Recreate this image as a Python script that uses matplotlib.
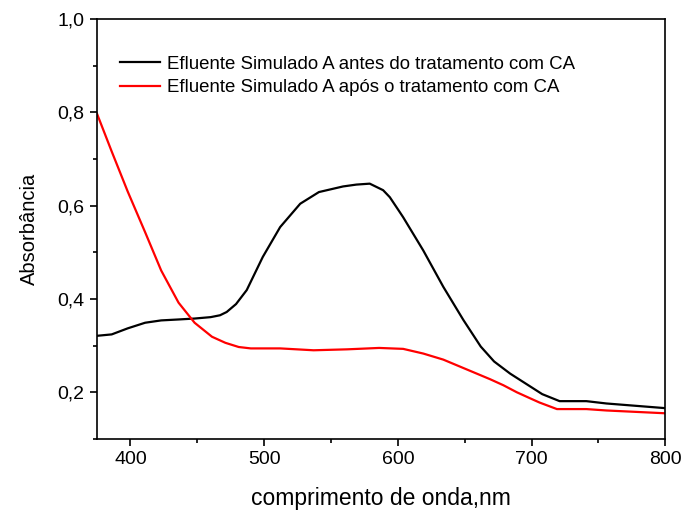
import matplotlib.pyplot as plt
from matplotlib.ticker import MultipleLocator, FuncFormatter

plt.rcParams['font.family'] = ['Liberation Sans', 'DejaVu Sans']

# antes do tratamento (black)
x_antes = [375, 386, 398, 411, 423, 436, 448, 460, 467, 472, 479, 487, 499, 512,
           527, 541, 559, 569, 579, 589, 594, 601, 604, 619, 634, 649, 662, 672,
           684, 696, 708, 721, 741, 756, 778, 800]
y_antes = [0.321, 0.324, 0.337, 0.349, 0.354, 0.356, 0.358, 0.361, 0.365, 0.372,
           0.389, 0.419, 0.490, 0.554, 0.604, 0.629, 0.641, 0.645, 0.647, 0.633,
           0.618, 0.588, 0.575, 0.504, 0.426, 0.355, 0.298, 0.266, 0.240, 0.218,
           0.196, 0.181, 0.181, 0.176, 0.171, 0.166]

# após o tratamento (red)
x_apos = [375, 386, 398, 411, 423, 436, 448, 461, 471, 481, 490, 512, 537, 562,
          586, 604, 619, 634, 654, 669, 679, 689, 699, 706, 719, 741, 756, 778, 800]
y_apos = [0.797, 0.716, 0.630, 0.543, 0.461, 0.392, 0.349, 0.319, 0.306, 0.297,
          0.294, 0.294, 0.290, 0.292, 0.295, 0.293, 0.283, 0.270, 0.246, 0.228,
          0.215, 0.200, 0.187, 0.178, 0.164, 0.164, 0.161, 0.158, 0.155]

fig = plt.figure(figsize=(6.83, 5.11), dpi=100)
ax = fig.add_axes([0.142, 0.141, 0.832, 0.822])

ax.plot(x_antes, y_antes, color='black', lw=1.6,
        label='Efluente Simulado A antes do tratamento com CA')
ax.plot(x_apos, y_apos, color='red', lw=1.6,
        label='Efluente Simulado A após o tratamento com CA')

ax.set_xlim(375, 800)
ax.set_ylim(0.1, 1.0)
ax.xaxis.set_major_locator(MultipleLocator(100))
ax.xaxis.set_minor_locator(MultipleLocator(50))
ax.yaxis.set_major_locator(MultipleLocator(0.2))
ax.yaxis.set_minor_locator(MultipleLocator(0.1))
ax.yaxis.set_major_formatter(FuncFormatter(lambda v, p: f'{v:.1f}'.replace('.', ',')))
ax.tick_params(which='both', direction='out', top=False, right=False,
               labelsize=14, width=1.2, pad=4)
ax.tick_params(which='major', length=5)
ax.tick_params(which='minor', length=3)
for s in ax.spines.values():
    s.set_linewidth(1.2)

ax.set_xlabel('comprimento de onda,nm', fontsize=16.5, labelpad=13)
ax.set_ylabel('Absorbância', fontsize=14.5, labelpad=13)

ax.legend(loc='upper left', bbox_to_anchor=(0.04, 0.912), frameon=False,
          borderpad=0, borderaxespad=0, fontsize=13.4, handlelength=2.15,
          handletextpad=0.38, labelspacing=0.35)

fig.savefig('out.png', dpi=100)
